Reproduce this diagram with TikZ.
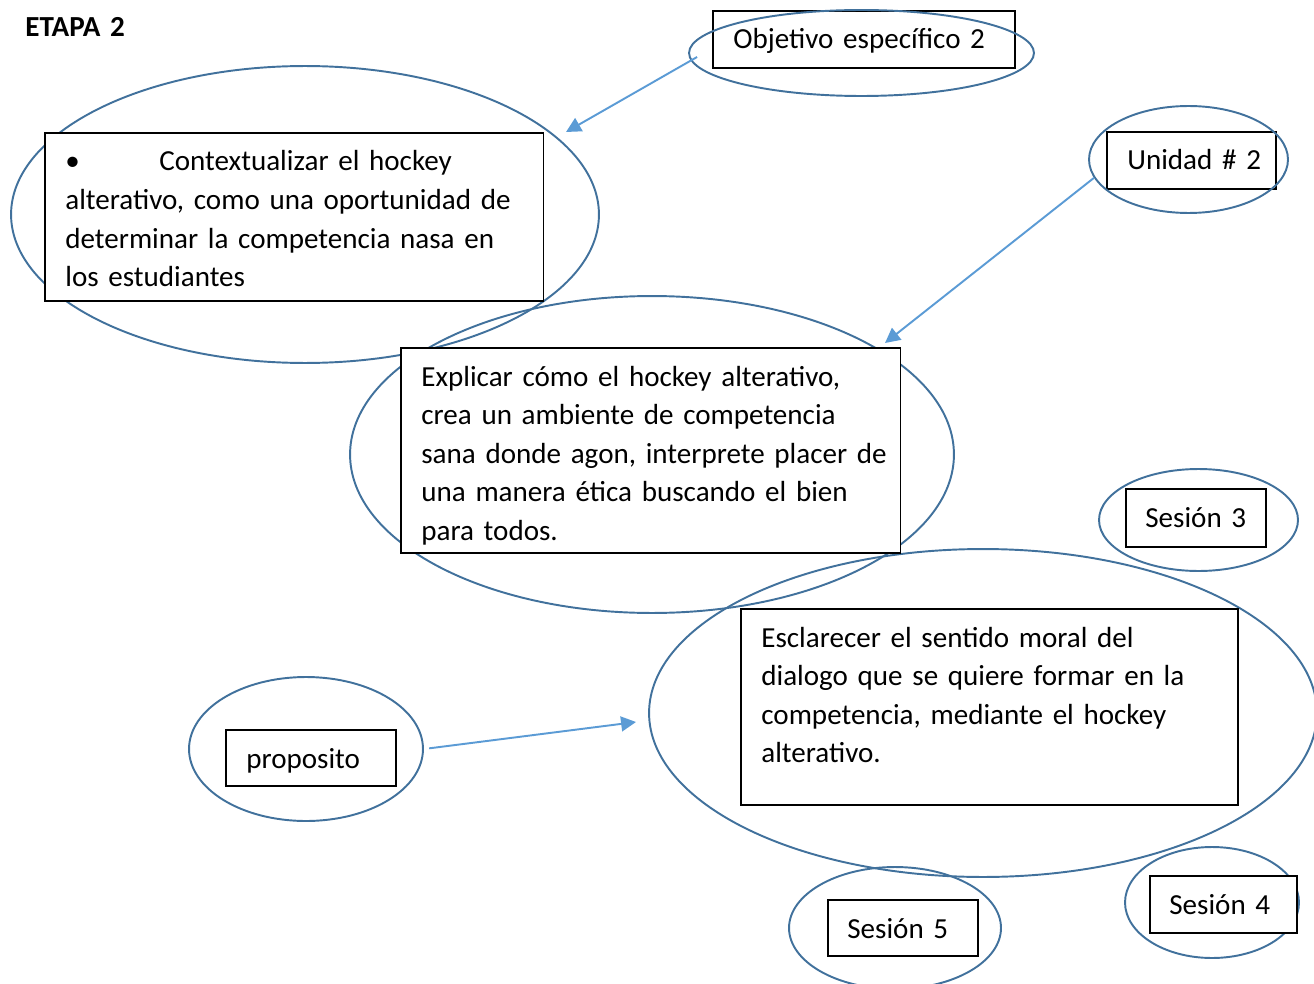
\documentclass[tikz,border=0pt]{standalone}
\usepackage{fontspec}
\setmainfont{Carlito}
\usetikzlibrary{shapes.geometric,arrows.meta}
\definecolor{ovaloazul}{HTML}{41719C}
\definecolor{flechaazul}{HTML}{5B9BD5}
\newcommand{\letra}{\fontsize{16.55pt}{21.94pt}\selectfont}

\begin{document}
\begin{tikzpicture}[x=0.02cm,y=-0.02cm,
        ovalo/.style={draw=ovaloazul,line width=1.1pt,ellipse,inner sep=0pt},
        caja/.style={draw=black,line width=0.9pt,fill=white,inner sep=0pt,anchor=north west},
        texto/.style={anchor=base west,text width=10.5cm,inner sep=0pt,font=\letra},
        flecha/.style={draw=flechaazul,line width=1.1pt,-{Triangle[length=8.5pt,width=8.5pt]}}]
                \useasboundingbox (0,0) rectangle (1314,983);
                \node[texto,font=\letra\bfseries] (etapa) at (25,37) {ETAPA 2};
                %% ovalos
                \node[ovalo,minimum width=11.76cm,minimum height=5.94cm] (ctxE) at (305,214.5) {};
                \node[ovalo,minimum width=12.08cm,minimum height=6.34cm] (explE) at (652,454.5) {};
                \node[ovalo,minimum width=13.36cm,minimum height=6.56cm] (esclE) at (983,713) {};
                \node[ovalo,minimum width=4.68cm,minimum height=2.88cm] (propE) at (306,749) {};
                \node[ovalo,minimum width=4.24cm,minimum height=2.44cm] (ses5E) at (895,928) {};
                \node[ovalo,minimum width=3.48cm,minimum height=2.22cm] (ses4E) at (1212,902.5) {};
                \node[ovalo,minimum width=3.98cm,minimum height=2.04cm] (ses3E) at (1198.5,520) {};
                %% cajas grandes
                \node[caja,minimum width=9.98cm,minimum height=3.36cm] (ctxB) at (44,132) {};
                \node[texto] (ctxT) at ([shift={(21,39)}]ctxB.north west)
                    {\makebox[1.88cm][l]{•}Contextualizar el hockey\\alterativo, como una oportunidad de\\determinar la competencia nasa en\\los estudiantes};
                \node[caja,minimum width=10cm,minimum height=4.1cm] (explB) at (400,347) {};
                \node[texto] (explT) at ([shift={(21,39)}]explB.north west)
                    {Explicar cómo el hockey alterativo,\\crea un ambiente de competencia\\sana donde agon, interprete placer de\\una manera ética buscando el bien\\para todos.};
                \node[caja,minimum width=9.94cm,minimum height=3.92cm] (esclB) at (740,608) {};
                \node[texto] (esclT) at ([shift={(21,39)}]esclB.north west)
                    {Esclarecer el sentido moral del\\dialogo que se quiere formar en la\\competencia, mediante el hockey\\alterativo.};
                %% cajas chicas
                \node[caja,minimum width=6.04cm,minimum height=1.14cm] (objB) at (712,10) {};
                \node[texto] (objT) at ([shift={(21,39)}]objB.north west) {Objetivo específico 2};
                \node[ovalo,minimum width=6.9cm,minimum height=1.72cm] (objE) at (861.5,53) {};
                \node[caja,minimum width=3.38cm,minimum height=1.14cm] (uniB) at (1106,131) {};
                \node[texto] (uniT) at ([shift={(21,39)}]uniB.north west) {Unidad \# 2};
                \node[ovalo,minimum width=3.98cm,minimum height=2.14cm] (uniE) at (1188.5,159.5) {};
                \node[caja,minimum width=2.8cm,minimum height=1.16cm] (ses3B) at (1125,488) {};
                \node[texto] (ses3T) at ([shift={(20,39)}]ses3B.north west) {Sesión 3};
                \node[caja,minimum width=3.4cm,minimum height=1.12cm] (propB) at (225,729) {};
                \node[texto] (propT) at ([shift={(21,39)}]propB.north west) {proposito};
                \node[caja,minimum width=3cm,minimum height=1.12cm] (ses5B) at (827,899) {};
                \node[texto] (ses5T) at ([shift={(20,39)}]ses5B.north west) {Sesión 5};
                \node[caja,minimum width=2.94cm,minimum height=1.14cm] (ses4B) at (1149,875) {};
                \node[texto] (ses4T) at ([shift={(20,39)}]ses4B.north west) {Sesión 4};
                %% flechas
                \coordinate (p1) at (566,132);
                \coordinate (p2) at (885,343);
                \coordinate (p3) at (636,722);
                \draw[flecha] ([shift={(9,4)}]objE.west) -- (p1);
                \draw[flecha] (uniE.191) -- (p2);
                \draw[flecha,shorten <=3pt] (propE.east) -- (p3);
\end{tikzpicture}
\end{document}
